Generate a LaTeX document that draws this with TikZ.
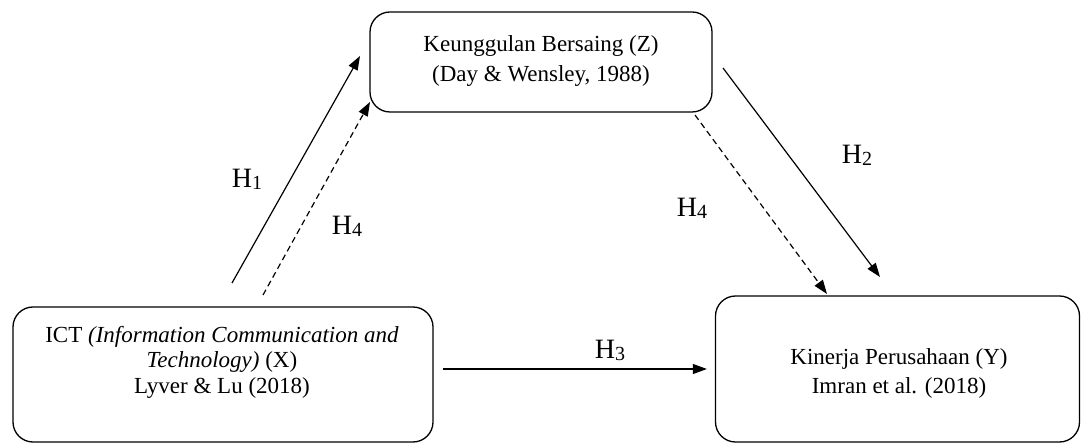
\documentclass[tikz,border=0pt]{standalone}
\usepackage{fontspec}
\setmainfont{Liberation Serif}
\usetikzlibrary{arrows.meta}
\tikzset{
  box/.style={draw, line width=1.3pt, rounded corners=20pt, inner sep=0pt},
  txt/.style={align=center, font=\fontsize{23}{30}\selectfont, inner sep=0pt},
  arr/.style={line width=1.2pt, -{Triangle[length=14pt,width=10pt]}},
  darr/.style={arr, dash pattern=on 6pt off 4pt},
  hlab/.style={font=\fontsize{28}{30}\selectfont, inner sep=0pt}
}
\newcommand{\Hsub}[1]{H{\fontsize{20}{20}\selectfont\raisebox{-2pt}{#1}}}
\begin{document}
\begin{tikzpicture}[x=1pt,y=1pt]
\useasboundingbox (0,0) rectangle (1081,444);
\node[box, minimum width=342pt, minimum height=100pt] (Z) at (541,382) {};
\node[txt] (Zt) at (541,383) {Keunggulan Bersaing (Z)\\(Day \& Wensley, 1988)};
\node[box, minimum width=420pt, minimum height=135pt] (X) at (223,69.5) {};
\node[txt, font=\fontsize{23}{25.5}\selectfont] (Xt) at (222,82)
  {ICT \textit{(Information Communication and}\\\textit{Technology)} (X)\\Lyver \& Lu (2018)};
\node[box, minimum width=364pt, minimum height=146pt] (Y) at (897.5,75) {};
\node[txt, font=\fontsize{23}{29}\selectfont] (Yt) at (899,71) {Kinerja Perusahaan (Y)\\Imran et al. (2018)};
\coordinate (h1s) at (232,161);
\coordinate (h1e) at (360,388);
\coordinate (h4ls) at (263,149);
\coordinate (h4le) at (370,342);
\coordinate (h2s) at (723,376);
\coordinate (h2e) at (880,167);
\coordinate (h4rs) at (695,329);
\coordinate (h4re) at (827,150);
\coordinate (h3s) at (443,75);
\draw[arr] (h1s) -- (h1e);
\draw[darr] (h4ls) -- (h4le);
\draw[arr] (h2s) -- (h2e);
\draw[darr] (h4rs) -- (h4re);
\draw[arr, shorten >=8pt] (h3s) -- (Y.west |- h3s);
\node[hlab] (l1) at (247,265) {\Hsub{1}};
\node[hlab] (l4a) at (347,218) {\Hsub{4}};
\node[hlab] (l2) at (857,289) {\Hsub{2}};
\node[hlab] (l4b) at (692,236) {\Hsub{4}};
\node[hlab] (l3) at (610,94) {\Hsub{3}};
\end{tikzpicture}
\end{document}
